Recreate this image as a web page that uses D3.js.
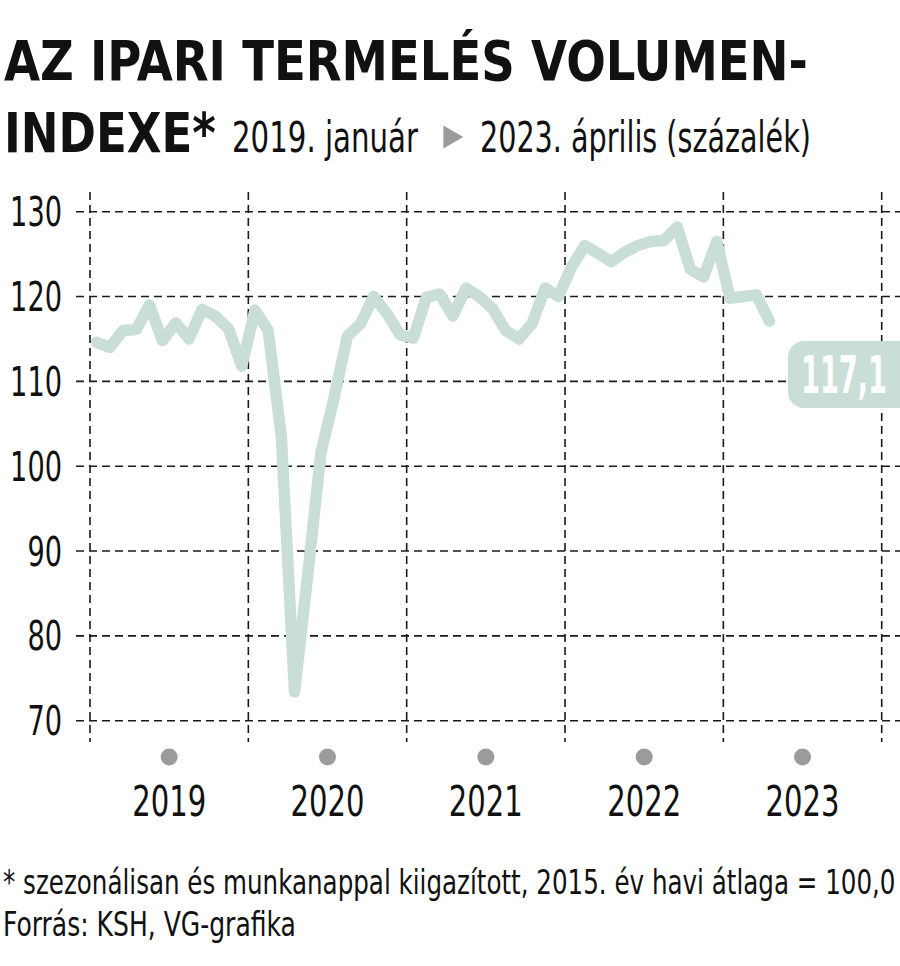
<!DOCTYPE html>
<html>
<head>
<meta charset="utf-8">
<script src="https://cdn.jsdelivr.net/npm/d3@7"></script>
<style>
  html, body { margin: 0; padding: 0; background: #fff; }
  svg { display: block; }
  text { font-family: "Liberation Sans Narrow", "DejaVu Sans Condensed", "Liberation Sans", sans-serif; }
</style>
</head>
<body>
<div id="chart"></div>
<script>
// ---- data ----
const years = ["2019", "2020", "2021", "2022", "2023"];
const yTicks = [70, 80, 90, 100, 110, 120, 130];
// monthly index values, 2019 January -> 2023 April
const values = [
  114.6, 114.0, 116.0, 116.1, 119.0, 114.8, 116.9, 115.0, 118.5, 117.7, 116.2, 111.8,
  118.4, 116.0, 103.5, 73.4, 87.2, 101.6, 108.1, 115.3, 116.8, 120.0, 118.0, 115.5,
  115.1, 119.9, 120.3, 117.7, 121.0, 120.0, 118.6, 116.0, 115.0, 116.8, 121.0, 120.0,
  123.5, 126.0, 125.1, 124.1, 125.2, 126.0, 126.5, 126.6, 128.2, 123.2, 122.3, 126.5,
  119.8, 120.0, 120.2, 117.1
];
const lastLabel = "117,1";
const titleLine1 = "AZ IPARI TERMELÉS VOLUMEN-";
const titleLine2 = "INDEXE*";
const subFrom = "2019. január";
const subTo = "2023. április (százalék)";
const note = "* szezonálisan és munkanappal kiigazított, 2015. év havi átlaga = 100,0";
const source = "Forrás: KSH, VG-grafika";

// ---- layout ----
const W = 900, H = 966;
const svg = d3.select("#chart").append("svg").attr("width", W).attr("height", H);

const x = d3.scaleLinear().domain([0, years.length * 12]).range([90, 881.7]);
const y = d3.scaleLinear().domain([70, 130]).range([720.7, 211.7]);

const green = "#c9ded6";

// Place a text at (px,py) and condense it horizontally to a target width
function place(g, str, px, py, size, target, opts = {}) {
  const t = g.append("text")
    .attr("x", 0).attr("y", 0)
    .attr("font-size", size)
    .attr("font-weight", opts.bold ? "bold" : "normal")
    .attr("fill", opts.fill || "#111")
    .attr("text-anchor", opts.anchor || "start")
    .text(str);
  const n = t.node().getComputedTextLength();
  const s = n > 0 ? target / n : 1;
  t.attr("transform", `translate(${px},${py}) scale(${s.toFixed(4)},1)`);
  return t;
}

// Title
place(svg, titleLine1, 4, 80, 55, 804, { bold: true });
place(svg, titleLine2, 4, 152, 55, 212, { bold: true });
place(svg, subFrom, 232, 152, 42, 186);
svg.append("path")
  .attr("d", d3.symbol().type(d3.symbolTriangle).size(230)())
  .attr("transform", "translate(450,137) rotate(90)")
  .attr("fill", "#9b9b9b");
place(svg, subTo, 480, 152, 42, 331);

// Grid: horizontal
const gridColor = "#1a1a1a";
svg.append("g").selectAll("line").data(yTicks).join("line")
  .attr("x1", 76).attr("x2", 900)
  .attr("y1", d => y(d)).attr("y2", d => y(d))
  .attr("stroke", gridColor).attr("stroke-width", 1.6)
  .attr("stroke-dasharray", "8,5");

// Grid: vertical year boundaries
const yearBounds = d3.range(years.length + 1).map(i => i * 12);
svg.append("g").selectAll("line").data(yearBounds).join("line")
  .attr("x1", d => x(d)).attr("x2", d => x(d))
  .attr("y1", 192).attr("y2", 742)
  .attr("stroke", gridColor).attr("stroke-width", 1.6)
  .attr("stroke-dasharray", "8,5");

// Y axis labels (axis generator for tick positions, condensed text)
const yAxis = d3.axisLeft(y).tickValues(yTicks).tickSize(0).tickPadding(0).tickFormat(d3.format("d"));
const gy = svg.append("g").attr("transform", "translate(62,0)").call(yAxis);
gy.select(".domain").remove();
gy.selectAll(".tick").each(function (d) {
  const tick = d3.select(this);
  tick.select("text").remove();
  place(tick, String(d), 0, 14, 40, String(d).length * 17.3, { anchor: "end" });
});

// Year dots and labels
const yearMid = years.map((yr, i) => ({ yr, m: i * 12 + 6 }));
svg.append("g").selectAll("circle").data(yearMid).join("circle")
  .attr("cx", d => x(d.m)).attr("cy", 757).attr("r", 8.5)
  .attr("fill", "#9b9b9b");
const gYears = svg.append("g");
yearMid.forEach(d => place(gYears, d.yr, x(d.m), 816, 42, 74, { anchor: "middle" }));

// Line
const line = d3.line()
  .x((d, i) => x(i + 0.5))
  .y(d => y(d));
svg.append("path").datum(values)
  .attr("d", line)
  .attr("fill", "none")
  .attr("stroke", green)
  .attr("stroke-width", 11.5)
  .attr("stroke-linejoin", "round")
  .attr("stroke-linecap", "round");

// Last value label
svg.append("rect")
  .attr("x", 788).attr("y", 341).attr("width", 130).attr("height", 67)
  .attr("rx", 16).attr("fill", green);
place(svg, lastLabel, 801, 393, 52, 86, { bold: true, fill: "#fff" });

// Footnotes
place(svg, note, 3, 894, 34, 893);
place(svg, source, 3, 936, 34, 293);
</script>
</body>
</html>
